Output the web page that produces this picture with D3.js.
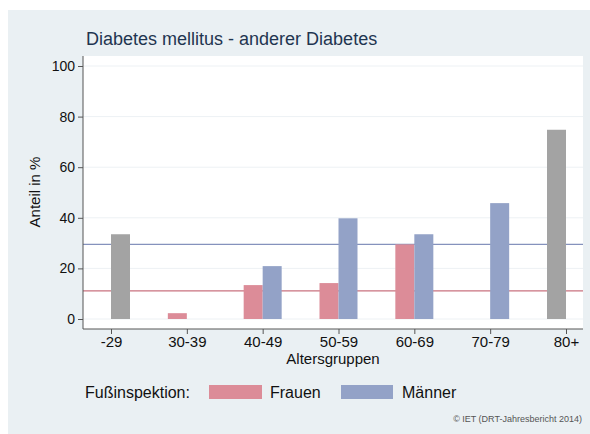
<!DOCTYPE html>
<html>
<head>
<meta charset="utf-8">
<script src="https://cdn.jsdelivr.net/npm/d3@7"></script>
<style>
  html, body { margin: 0; padding: 0; background: #fff; }
  svg { display: block; font-family: "Liberation Sans", Arial, sans-serif; }
</style>
</head>
<body>
<svg id="chart" width="590" height="434"></svg>
<script>
// Age groups and share (%) with foot inspection, by sex
const ageGroups = ["-29", "30-39", "40-49", "50-59", "60-69", "70-79", "80+"];
const frauen  = [0, 2.3, 13.4, 14.2, 29.5, 0, 74.8];
const maenner = [33.5, 0, 20.9, 39.8, 33.5, 45.8, 0];
// groups with few cases are shown in grey
const frauenLowN  = [false, false, false, false, false, false, true];
const maennerLowN = [true, false, false, false, false, false, false];
// overall averages drawn as reference lines
const meanFrauen = 11.1;
const meanMaenner = 29.5;
const yTicks = [0, 20, 40, 60, 80, 100];

const colors = { frauen: "#dc8c98", maenner: "#93a2c7", lowN: "#a3a3a3",
                 lineF: "#c9727f", lineM: "#8592bd" };

const svg = d3.select("#chart");

// outer panel
svg.append("rect").attr("x", 8).attr("y", 10).attr("width", 582).attr("height", 424)
  .attr("fill", "#eaf0f3");

const plot = { left: 83, right: 583, top: 56, bottom: 329 };

svg.append("rect").attr("x", plot.left).attr("y", plot.top)
  .attr("width", plot.right - plot.left).attr("height", plot.bottom - plot.top)
  .attr("fill", "#ffffff");

const y = d3.scaleLinear().domain([0, 100]).range([319, 66]);
const x = d3.scalePoint().domain(ageGroups).range([111, 566]);
const barW = 19;

// grid
svg.append("g").selectAll("line").data(yTicks).join("line")
  .attr("x1", plot.left).attr("x2", plot.right)
  .attr("y1", d => y(d)).attr("y2", d => y(d))
  .attr("stroke", "#edf1f4").attr("stroke-width", 1);

// reference lines
svg.append("line").attr("x1", plot.left).attr("x2", plot.right)
  .attr("y1", y(meanMaenner)).attr("y2", y(meanMaenner))
  .attr("stroke", colors.lineM).attr("stroke-width", 1.3);
svg.append("line").attr("x1", plot.left).attr("x2", plot.right)
  .attr("y1", y(meanFrauen)).attr("y2", y(meanFrauen))
  .attr("stroke", colors.lineF).attr("stroke-width", 1.3);

// bars
const bars = [];
ageGroups.forEach((g, i) => {
  bars.push({ g, v: frauen[i], side: -1, fill: frauenLowN[i] ? colors.lowN : colors.frauen });
  bars.push({ g, v: maenner[i], side: 0, fill: maennerLowN[i] ? colors.lowN : colors.maenner });
});
svg.append("g").selectAll("rect").data(bars.filter(d => d.v > 0)).join("rect")
  .attr("x", d => x(d.g) + d.side * barW)
  .attr("width", barW)
  .attr("y", d => y(d.v))
  .attr("height", d => y(0) - y(d.v))
  .attr("fill", d => d.fill);

// axes
const yAxis = d3.axisLeft(y).tickValues(yTicks).tickSize(5).tickPadding(3);
const gy = svg.append("g").attr("transform", `translate(${plot.left},0)`).call(yAxis);
gy.select(".domain").attr("d", `M0,${plot.top}V${plot.bottom}`).attr("stroke", "#555");
gy.selectAll(".tick line").attr("stroke", "#555");
gy.selectAll("text").attr("font-size", 14).attr("fill", "#111")
  .attr("font-family", "Liberation Sans, Arial, sans-serif");

const xAxis = d3.axisBottom(x).tickSize(5).tickPadding(2);
const gx = svg.append("g").attr("transform", `translate(0,${plot.bottom})`).call(xAxis);
gx.select(".domain").attr("d", `M${plot.left},0H${plot.right}`).attr("stroke", "#555");
gx.selectAll(".tick line").attr("stroke", "#555");
gx.selectAll("text").attr("font-size", 15).attr("fill", "#111")
  .attr("font-family", "Liberation Sans, Arial, sans-serif");

// titles
svg.append("text").attr("x", 86).attr("y", 45)
  .attr("font-size", 18).attr("fill", "#1f3550")
  .text("Diabetes mellitus - anderer Diabetes");

svg.append("text").attr("transform", "translate(40,192) rotate(-90)")
  .attr("text-anchor", "middle").attr("font-size", 15).attr("fill", "#111")
  .text("Anteil in %");

svg.append("text").attr("x", 333).attr("y", 364)
  .attr("text-anchor", "middle").attr("font-size", 15).attr("fill", "#111")
  .text("Altersgruppen");

// legend
const legY = 398;
svg.append("text").attr("x", 85).attr("y", legY)
  .attr("font-size", 16).attr("fill", "#111").text("Fußinspektion:");
svg.append("rect").attr("x", 209).attr("y", 385).attr("width", 53).attr("height", 14)
  .attr("fill", colors.frauen);
svg.append("text").attr("x", 270).attr("y", legY)
  .attr("font-size", 16).attr("fill", "#111").text("Frauen");
svg.append("rect").attr("x", 341).attr("y", 385).attr("width", 52).attr("height", 14)
  .attr("fill", colors.maenner);
svg.append("text").attr("x", 402).attr("y", legY)
  .attr("font-size", 16).attr("fill", "#111").text("Männer");

svg.append("text").attr("x", 582).attr("y", 422)
  .attr("text-anchor", "end").attr("font-size", 9).attr("fill", "#555")
  .text("© IET (DRT-Jahresbericht 2014)");
</script>
</body>
</html>
